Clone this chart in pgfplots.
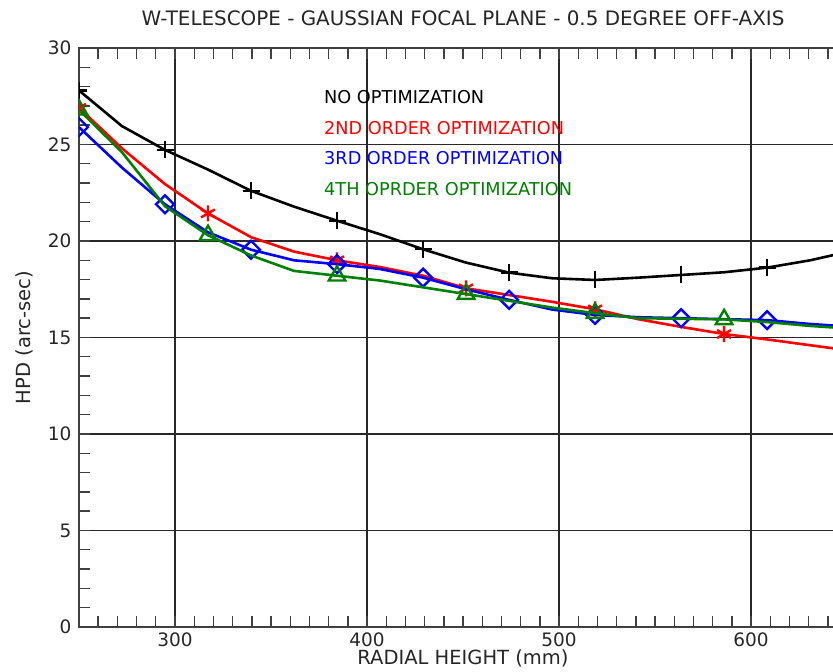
\documentclass[border=0pt]{standalone}
\usepackage{fontspec}
\setmainfont{DejaVu Sans}
\usepackage{pgfplots}
\usepackage{pgfplotstable}
\pgfplotsset{compat=1.18}
\definecolor{ggreen}{RGB}{0,128,0}
\definecolor{gridc}{RGB}{40,40,40}

\pgfplotstableread{
x y
250 27.8
272.4 25.95
294.8 24.72
317.2 23.7
339.6 22.6
362 21.78
384.4 21.05
406.8 20.35
429.2 19.57
451.6 18.88
474 18.36
496.4 18.07
518.8 17.98
541.2 18.1
563.6 18.24
586 18.38
608.4 18.62
630.8 19.0
653.2 19.5
}\nonopt

\pgfplotstableread{
x y
250 26.9
272.4 24.8
294.8 22.95
317.2 21.43
339.6 20.2
362 19.45
384.4 19.0
406.8 18.65
429.2 18.2
451.6 17.55
474 17.2
496.4 16.85
518.8 16.46
541.2 15.95
563.6 15.55
586 15.18
608.4 14.9
630.8 14.6
653.2 14.3
}\secondord

\pgfplotstableread{
x y
250 25.9
272.4 23.8
294.8 21.9
317.2 20.45
339.6 19.55
362 19.0
384.4 18.8
406.8 18.55
429.2 18.1
451.6 17.5
474 16.95
496.4 16.45
518.8 16.17
541.2 16.05
563.6 16.0
586 15.95
608.4 15.9
630.8 15.7
653.2 15.55
}\thirdord

\pgfplotstableread{
x y
250 26.8
272.4 24.6
294.8 21.8
317.2 20.3
339.6 19.25
362 18.45
384.4 18.2
406.8 17.95
429.2 17.6
451.6 17.25
474 16.9
496.4 16.55
518.8 16.26
541.2 16.0
563.6 15.97
586 15.94
608.4 15.8
630.8 15.6
653.2 15.45
}\fourthord

\begin{document}
\begin{tikzpicture}
\begin{axis}[
  scale only axis, width=768pt, height=579pt,
  xmin=250, xmax=650, ymin=0, ymax=30,
  xtick={300,400,500,600}, ytick={0,5,...,30},
  minor xtick={260,270,...,640}, minor ytick={1,2,...,29},
  tick align=inside,
  major tick length=11pt, minor tick length=11pt,
  grid=major,
  major grid style={gridc, line width=1.4pt},
  axis line style={line width=2.2pt, black!75},
  every tick/.style={black!75, line width=1.4pt},
  tick label style={font=\fontsize{18.5}{22}\selectfont, text=black!85},
  /pgf/number format/assume math mode=true,
  xticklabel style={yshift=-2pt},
  yticklabel style={xshift=-4pt},
  title={W-TELESCOPE - GAUSSIAN FOCAL PLANE - 0.5 DEGREE OFF-AXIS},
  title style={font=\fontsize{19.9}{24}\selectfont, text=black!85, yshift=13pt},
  xlabel={RADIAL HEIGHT (mm)},
  ylabel={HPD (arc-sec)},
  ylabel shift=8pt,
  xlabel shift=-4pt,
  label style={font=\fontsize{19.5}{23}\selectfont, text=black!85},
  clip marker paths=true,
]
\addplot[black, line width=2.6pt, mark=+, mark repeat=2, mark size=8.5pt, mark options={line width=2.4pt}] table {\nonopt};
\addplot[red, line width=2.6pt, mark=asterisk, mark repeat=3, mark size=8pt, mark options={line width=2.4pt}] table {\secondord};
\addplot[blue, line width=2.6pt, mark=square, mark repeat=2, mark size=6.3pt, mark options={rotate=45, line width=2.4pt, fill=none}] table {\thirdord};
\addplot[ggreen, line width=2.6pt, mark=triangle, mark repeat=3, mark size=9.5pt, mark options={line width=2.4pt, fill=none}] table {\fourthord};

\node[anchor=base west, inner sep=0pt, text=black, font=\fontsize{17.7}{21}\selectfont] at (axis cs:377.6,27.12) {NO OPTIMIZATION};
\node[anchor=base west, inner sep=0pt, text=red, font=\fontsize{17.7}{21}\selectfont] at (axis cs:377.6,25.53) {2ND ORDER OPTIMIZATION};
\node[anchor=base west, inner sep=0pt, text=blue, font=\fontsize{17.7}{21}\selectfont] at (axis cs:377.6,23.94) {3RD ORDER OPTIMIZATION};
\node[anchor=base west, inner sep=0pt, text=ggreen, font=\fontsize{17.7}{21}\selectfont] at (axis cs:377.6,22.35) {4TH OPRDER OPTIMIZATION};

\coordinate (sw) at (rel axis cs:0,0);
\coordinate (ne) at (rel axis cs:1,1);
\end{axis}
\pgfresetboundingbox
\useasboundingbox ([shift={(-79pt,-45pt)}]sw) rectangle ([shift={(-14pt,48pt)}]ne);
\end{tikzpicture}
\end{document}
